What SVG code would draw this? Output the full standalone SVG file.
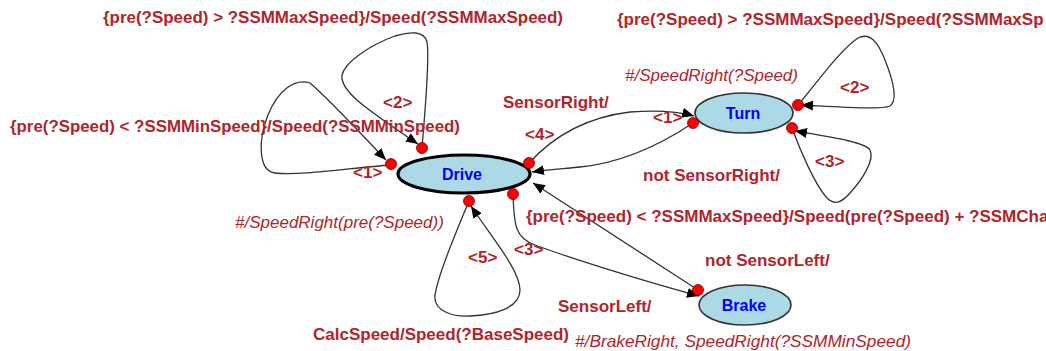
<svg xmlns="http://www.w3.org/2000/svg" width="1046" height="351" viewBox="0 0 1046 351">
<style>
.lbl{font-family:"Liberation Sans",Arial,sans-serif;font-size:17px;font-weight:bold;fill:#b0242a}
.act{font-family:"Liberation Sans",Arial,sans-serif;font-size:17px;font-style:italic;fill:#b0242a}
.nm{font-family:"Liberation Sans",Arial,sans-serif;font-size:16px;font-weight:bold;fill:#0000ff;text-anchor:middle}
.st{fill:#add8e6;stroke:#333;stroke-width:1.6}
.edge{fill:none;stroke:#333;stroke-width:1.3;marker-end:url(#ah)}
.dot{fill:#ff0000;stroke:#700;stroke-width:0.8}
</style>
<defs>
<marker id="ah" markerUnits="userSpaceOnUse" markerWidth="13" markerHeight="11" refX="12" refY="5" orient="auto">
<path d="M0,0 L12,5 L0,10 z" fill="#000"/>
</marker>
</defs>
<rect width="1046" height="351" fill="#fff"/>
<g id="Drive">
<ellipse cx="464" cy="174" rx="66" ry="19" fill="#add8e6" stroke="#000" stroke-width="3.2"/>
<text class="nm" x="462" y="180">Drive</text>
</g>
<g id="Turn">
<ellipse class="st" cx="744" cy="113" rx="49" ry="20"/>
<text class="nm" x="743" y="119">Turn</text>
</g>
<g id="Brake">
<ellipse class="st" cx="745" cy="305" rx="46" ry="20"/>
<text class="nm" x="744" y="311">Brake</text>
</g>
<g id="connectors">
<path class="edge" d="M391,165 C350,168 300,176 275,173 C258,171 258,140 268,115 C278,90 295,78 310,83 C330,100 360,133 386,160"/>
<path class="edge" d="M422,148 C425,110 430,60 427,42 C424,30 410,32 395,36 C370,45 345,62 342,75 C340,90 360,105 418,144"/>
<path class="edge" d="M469,201 C455,235 438,275 435,295 C433,312 455,317 470,316 C495,315 520,308 520,290 C520,270 490,235 471,206"/>
<path class="edge" d="M513,194 C514,225 515,238 535,245 C570,258 640,280 699,296"/>
<path class="edge" d="M698,290 L533,183"/>
<path class="edge" d="M529,163 C550,140 580,118 630,112 C660,110 680,112 694,116"/>
<path class="edge" d="M693,123 C660,145 620,163 580,167 C560,169 545,170 532,172"/>
<path class="edge" d="M798,105 C815,85 840,50 858,38 C870,32 878,42 885,60 C893,80 898,100 890,106 C880,110 840,107 801,105"/>
<path class="edge" d="M792,128 C800,150 815,185 827,198 C835,206 842,202 850,193 C862,180 875,160 870,150 C865,142 830,137 795,131"/>
<circle class="dot" cx="391" cy="164" r="5.5"/>
<circle class="dot" cx="422" cy="148" r="5.5"/>
<circle class="dot" cx="529" cy="163" r="5.5"/>
<circle class="dot" cx="469" cy="201" r="5.5"/>
<circle class="dot" cx="513" cy="194" r="5.5"/>
<circle class="dot" cx="693" cy="123" r="5.5"/>
<circle class="dot" cx="798" cy="105" r="5.5"/>
<circle class="dot" cx="792" cy="128" r="5.5"/>
<circle class="dot" cx="698" cy="290" r="5.5"/>
</g>
<g id="labels">
<text class="lbl" x="103" y="23" textLength="460" lengthAdjust="spacingAndGlyphs">{pre(?Speed) &gt; ?SSMMaxSpeed}/Speed(?SSMMaxSpeed)</text>
<text class="lbl" x="617" y="25">{pre(?Speed) &gt; ?SSMMaxSpeed}/Speed(?SSMMaxSp</text>
<text class="act" x="625" y="81">#/SpeedRight(?Speed)</text>
<text class="lbl" x="383" y="108">&lt;2&gt;</text>
<text class="lbl" x="503" y="108">SensorRight/</text>
<text class="lbl" x="525" y="140">&lt;4&gt;</text>
<text class="lbl" x="653" y="123">&lt;1&gt;</text>
<text class="lbl" x="10" y="132" textLength="450" lengthAdjust="spacingAndGlyphs">{pre(?Speed) &lt; ?SSMMinSpeed}/Speed(?SSMMinSpeed)</text>
<text class="lbl" x="353" y="178">&lt;1&gt;</text>
<text class="lbl" x="840" y="93">&lt;2&gt;</text>
<text class="lbl" x="815" y="167">&lt;3&gt;</text>
<text class="lbl" x="643" y="181">not SensorRight/</text>
<text class="act" x="235" y="228">#/SpeedRight(pre(?Speed))</text>
<text class="lbl" x="526" y="222">{pre(?Speed) &lt; ?SSMMaxSpeed}/Speed(pre(?Speed) + ?SSMCha</text>
<text class="lbl" x="514" y="255">&lt;3&gt;</text>
<text class="lbl" x="468" y="263">&lt;5&gt;</text>
<text class="lbl" x="705" y="266">not SensorLeft/</text>
<text class="lbl" x="558" y="312">SensorLeft/</text>
<text class="lbl" x="313" y="340">CalcSpeed/Speed(?BaseSpeed)</text>
<text class="act" x="575" y="347" textLength="336" lengthAdjust="spacingAndGlyphs">#/BrakeRight, SpeedRight(?SSMMinSpeed)</text>
</g>
</svg>
